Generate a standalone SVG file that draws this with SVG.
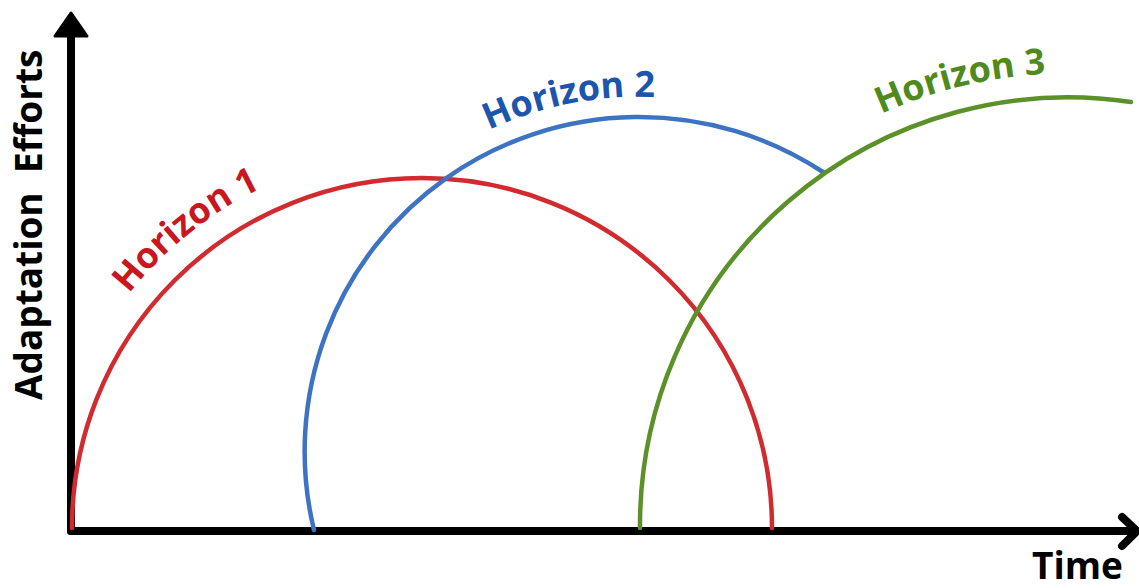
<svg xmlns="http://www.w3.org/2000/svg" width="1139" height="588" viewBox="0 0 1139 588">
  <style>
    .axis { stroke: #000; stroke-width: 8; fill: none; stroke-linecap: round; stroke-linejoin: round; }
    .arc { fill: none; stroke-width: 4.5; stroke-linecap: round; }
    .lbl { font-family: "Open Sans", "Liberation Sans", sans-serif; font-weight: 700; font-size: 36px; }
    .axlbl { font-family: "Open Sans", "Liberation Sans", sans-serif; font-weight: 700; font-size: 37px; fill: #000; }
  </style>
  <defs>
    <path id="p1" d="M 129 294 A 376 376 0 0 1 424 151"/>
    <path id="p2" d="M 489 130 A 354 354 0 0 1 818 145.6"/>
    <path id="p3" d="M 881 114 A 451.5 451.5 0 0 1 1100 74.6"/>
  </defs>
  <rect width="1139" height="588" fill="#fff"/>
  <g id="axes">
    <line class="axis" x1="71" y1="36" x2="71" y2="531"/>
    <polygon points="71,13 55,36 87,36" fill="#000" stroke="#000" stroke-width="3" stroke-linejoin="round"/>
    <line class="axis" x1="71" y1="531" x2="1135" y2="531"/>
    <polyline class="axis" points="1122,517 1137,531 1122,546"/>
  </g>
  <g id="horizon1">
    <path class="arc" stroke="#d12a2f" d="M 72 528 A 350 350 0 0 1 772 528"/>
    <text class="lbl" fill="#c8171f"><textPath href="#p1">Horizon 1</textPath></text>
  </g>
  <g id="horizon2">
    <path class="arc" stroke="#3d73c2" d="M 314 530 A 334.5 334.5 0 0 1 823 172"/>
    <text class="lbl" fill="#1c55ad"><textPath href="#p2">Horizon 2</textPath></text>
  </g>
  <g id="horizon3">
    <path class="arc" stroke="#5b9128" d="M 640 528 A 428 428 0 0 1 1131 102"/>
    <text class="lbl" fill="#4f8a1c"><textPath href="#p3">Horizon 3</textPath></text>
  </g>
  <g id="labels">
    <text class="axlbl" transform="translate(42,400) rotate(-90)" xml:space="preserve">Adaptation  Efforts</text>
    <text class="axlbl" x="1032" y="579" font-size="34">Time</text>
  </g>
</svg>
